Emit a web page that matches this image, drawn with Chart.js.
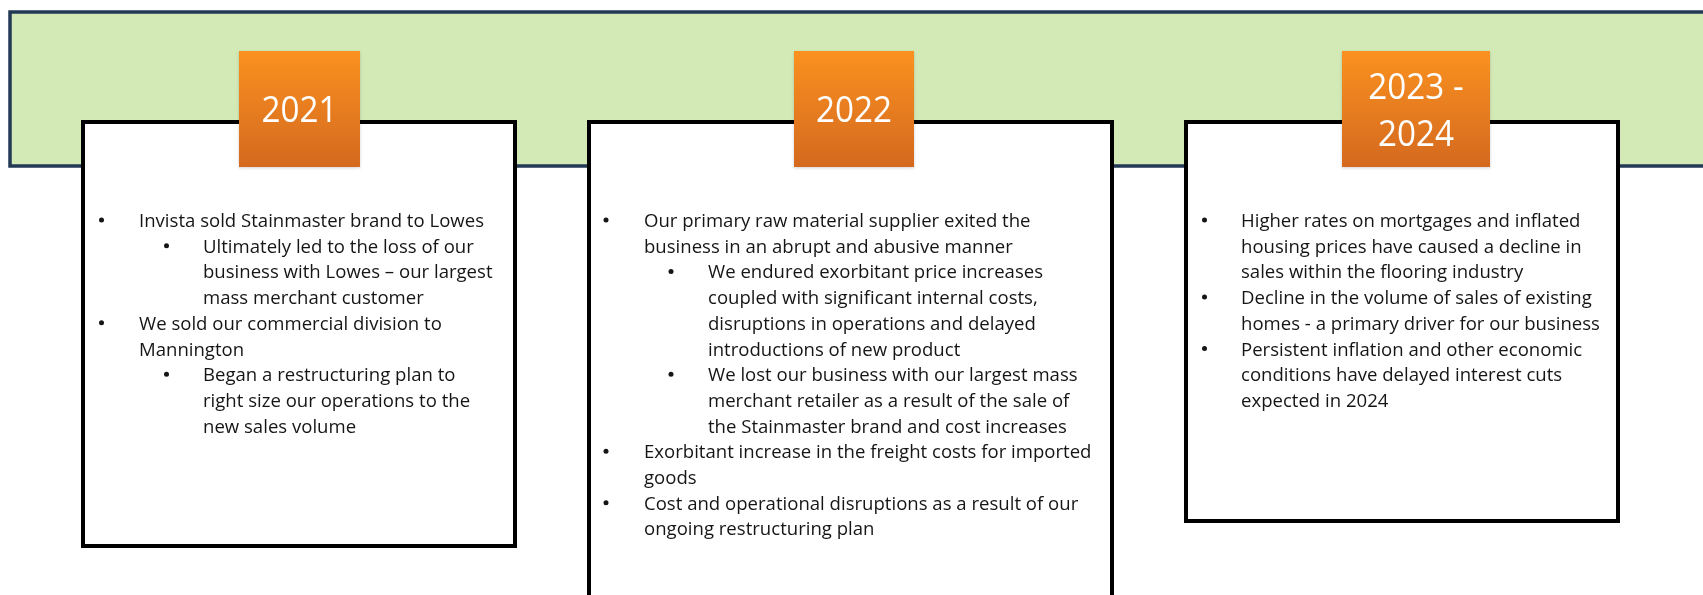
<!DOCTYPE html>
<html>
<head>
<meta charset="utf-8">
<script src="https://cdn.jsdelivr.net/npm/chart.js@4"></script>
<style>
  html, body { margin: 0; padding: 0; background: #ffffff; }
  #wrap { width: 1703px; height: 595px; }
</style>
</head>
<body>
<div id="wrap"><canvas id="timeline" width="1703" height="595"></canvas></div>
<script>
// Periods shown on the orange tags
const periods = ['2021', '2022', '2023 - 2024'];
const periodTagLines = [['2021'], ['2022'], ['2023 -', '2024']];

// Notes per period: [level, starts with bullet, text line]
const notes2021 = [
    [1, true, 'Invista sold Stainmaster brand to Lowes'],
    [2, true, 'Ultimately led to the loss of our'],
    [2, false, 'business with Lowes \u2013 our largest'],
    [2, false, 'mass merchant customer'],
    [1, true, 'We sold our commercial division to'],
    [1, false, 'Mannington'],
    [2, true, 'Began a restructuring plan to'],
    [2, false, 'right size our operations to the'],
    [2, false, 'new sales volume']
];
const notes2022 = [
    [1, true, 'Our primary raw material supplier exited the'],
    [1, false, 'business in an abrupt and abusive manner'],
    [2, true, 'We endured exorbitant price increases'],
    [2, false, 'coupled with significant internal costs,'],
    [2, false, 'disruptions in operations and delayed'],
    [2, false, 'introductions of new product'],
    [2, true, 'We lost our business with our largest mass'],
    [2, false, 'merchant retailer as a result of the sale of'],
    [2, false, 'the Stainmaster brand and cost increases'],
    [1, true, 'Exorbitant increase in the freight costs for imported'],
    [1, false, 'goods'],
    [1, true, 'Cost and operational disruptions as a result of our'],
    [1, false, 'ongoing restructuring plan']
];
const notes2023 = [
    [1, true, 'Higher rates on mortgages and inflated'],
    [1, false, 'housing prices have caused a decline in'],
    [1, false, 'sales within the flooring industry'],
    [1, true, 'Decline in the volume of sales of existing'],
    [1, false, 'homes - a primary driver for our business'],
    [1, true, 'Persistent inflation and other economic'],
    [1, false, 'conditions have delayed interest cuts'],
    [1, false, 'expected in 2024']
];
const periodNotes = [notes2021, notes2022, notes2023];

// Layout (page units, mapped through the chart scales)
const band = { left: 10, top: 12, right: 1720, bottom: 166 };
const boxes = [
    { left: 83, top: 122, right: 515, bottom: 546, tagL: 239, tagR: 360, b1: 101.5, t1: 139, b2: 166.5, t2: 203 },
    { left: 589, top: 122, right: 1112, bottom: 602, tagL: 794, tagR: 914, b1: 606, t1: 644, b2: 671, t2: 708 },
    { left: 1186, top: 122, right: 1618, bottom: 521, tagL: 1342, tagR: 1490, b1: 1204.5, t1: 1241, b2: 1204.5, t2: 1241 }
];
const tagTop = 51, tagBottom = 167;
const firstBaseline = 227, lineStep = 25.7;

const colors = {
    bandFill: '#d3eab7',
    bandEdge: '#233a56',
    boxEdge: '#000000',
    tagTop: '#fa911f',
    tagBottom: '#d4691f',
    text: '#151515'
};

const FONT = '"Open Sans", "Noto Sans", sans-serif';

const timelinePlugin = {
    id: 'timeline',
    beforeDatasetsDraw(chart) {
        const ctx = chart.ctx;
        const xs = chart.scales.x, ys = chart.scales.y;
        const X = v => xs.getPixelForValue(v);
        const Y = v => ys.getPixelForValue(v);

        // horizontal squeeze so the text matches the original narrow face
        ctx.save();
        ctx.font = '18.8px ' + FONT;
        const sx = 345 / ctx.measureText('Invista sold Stainmaster brand to Lowes').width;
        ctx.font = '36px ' + FONT;
        const sxTag = 76 / ctx.measureText('2021').width;
        ctx.restore();

        const drawText = (txt, x, y, align, s) => {
            const w = ctx.measureText(txt).width * s;
            let left = x;
            if (align === 'center') left = x - w / 2;
            ctx.save();
            ctx.translate(left, y);
            ctx.scale(s, 1);
            ctx.textAlign = 'left';
            ctx.textBaseline = 'alphabetic';
            ctx.fillText(txt, 0, 0);
            ctx.restore();
        };

        // green band
        ctx.save();
        ctx.fillStyle = colors.bandFill;
        ctx.fillRect(X(band.left), Y(band.top), X(band.right) - X(band.left), Y(band.bottom) - Y(band.top));
        ctx.strokeStyle = colors.bandEdge;
        ctx.lineWidth = 3.5;
        ctx.strokeRect(X(band.left), Y(band.top), X(band.right) - X(band.left), Y(band.bottom) - Y(band.top));
        ctx.restore();

        boxes.forEach((b, i) => {
            // white note box
            ctx.save();
            ctx.fillStyle = '#ffffff';
            ctx.fillRect(X(b.left), Y(b.top), X(b.right) - X(b.left), Y(b.bottom) - Y(b.top));
            ctx.strokeStyle = colors.boxEdge;
            ctx.lineWidth = 4;
            ctx.strokeRect(X(b.left), Y(b.top), X(b.right) - X(b.left), Y(b.bottom) - Y(b.top));
            ctx.restore();

            // orange tag
            ctx.save();
            const g = ctx.createLinearGradient(0, Y(tagTop), 0, Y(tagBottom));
            g.addColorStop(0, colors.tagTop);
            g.addColorStop(1, colors.tagBottom);
            ctx.shadowColor = 'rgba(0,0,0,0.18)';
            ctx.shadowBlur = 3;
            ctx.shadowOffsetY = 1;
            ctx.fillStyle = g;
            ctx.fillRect(X(b.tagL), Y(tagTop), X(b.tagR) - X(b.tagL), Y(tagBottom) - Y(tagTop));
            ctx.restore();

            ctx.save();
            ctx.fillStyle = '#ffffff';
            ctx.font = '36px ' + FONT;
            const tag = periodTagLines[i];
            const cx = (X(b.tagL) + X(b.tagR)) / 2;
            const baseY = tag.length === 1 ? [122] : [99, 146];
            tag.forEach((t, k) => drawText(t, cx, Y(baseY[k]), 'center', sxTag));
            ctx.restore();

            // bullet notes
            ctx.save();
            ctx.fillStyle = colors.text;
            ctx.font = '18.8px ' + FONT;
            periodNotes[i].forEach((row, k) => {
                const [lvl, bullet, txt] = row;
                const y = Y(firstBaseline + k * lineStep);
                const tx = lvl === 1 ? b.t1 : b.t2;
                const bx = lvl === 1 ? b.b1 : b.b2;
                if (bullet) {
                    ctx.beginPath();
                    ctx.arc(X(bx), y - 7, 2.5, 0, Math.PI * 2);
                    ctx.fill();
                }
                drawText(txt, X(tx), y, 'left', sx);
            });
            ctx.restore();
        });
    }
};

const timelineChart = new Chart(document.getElementById('timeline'), {
    type: 'scatter',
    data: {
        labels: periods,
        datasets: [{
            label: 'Periods',
            data: boxes.map(b => ({ x: (b.tagL + b.tagR) / 2, y: (tagTop + tagBottom) / 2 })),
            pointRadius: 0,
            pointHoverRadius: 0
        }]
    },
    options: {
        responsive: false,
        animation: false,
        layout: { padding: 0 },
        plugins: {
            legend: { display: false },
            tooltip: { enabled: false },
            title: { display: false }
        },
        scales: {
            x: { type: 'linear', min: 0, max: 1703, display: false },
            y: { type: 'linear', min: 0, max: 595, reverse: true, display: false }
        }
    },
    plugins: [timelinePlugin]
});
</script>
</body>
</html>
